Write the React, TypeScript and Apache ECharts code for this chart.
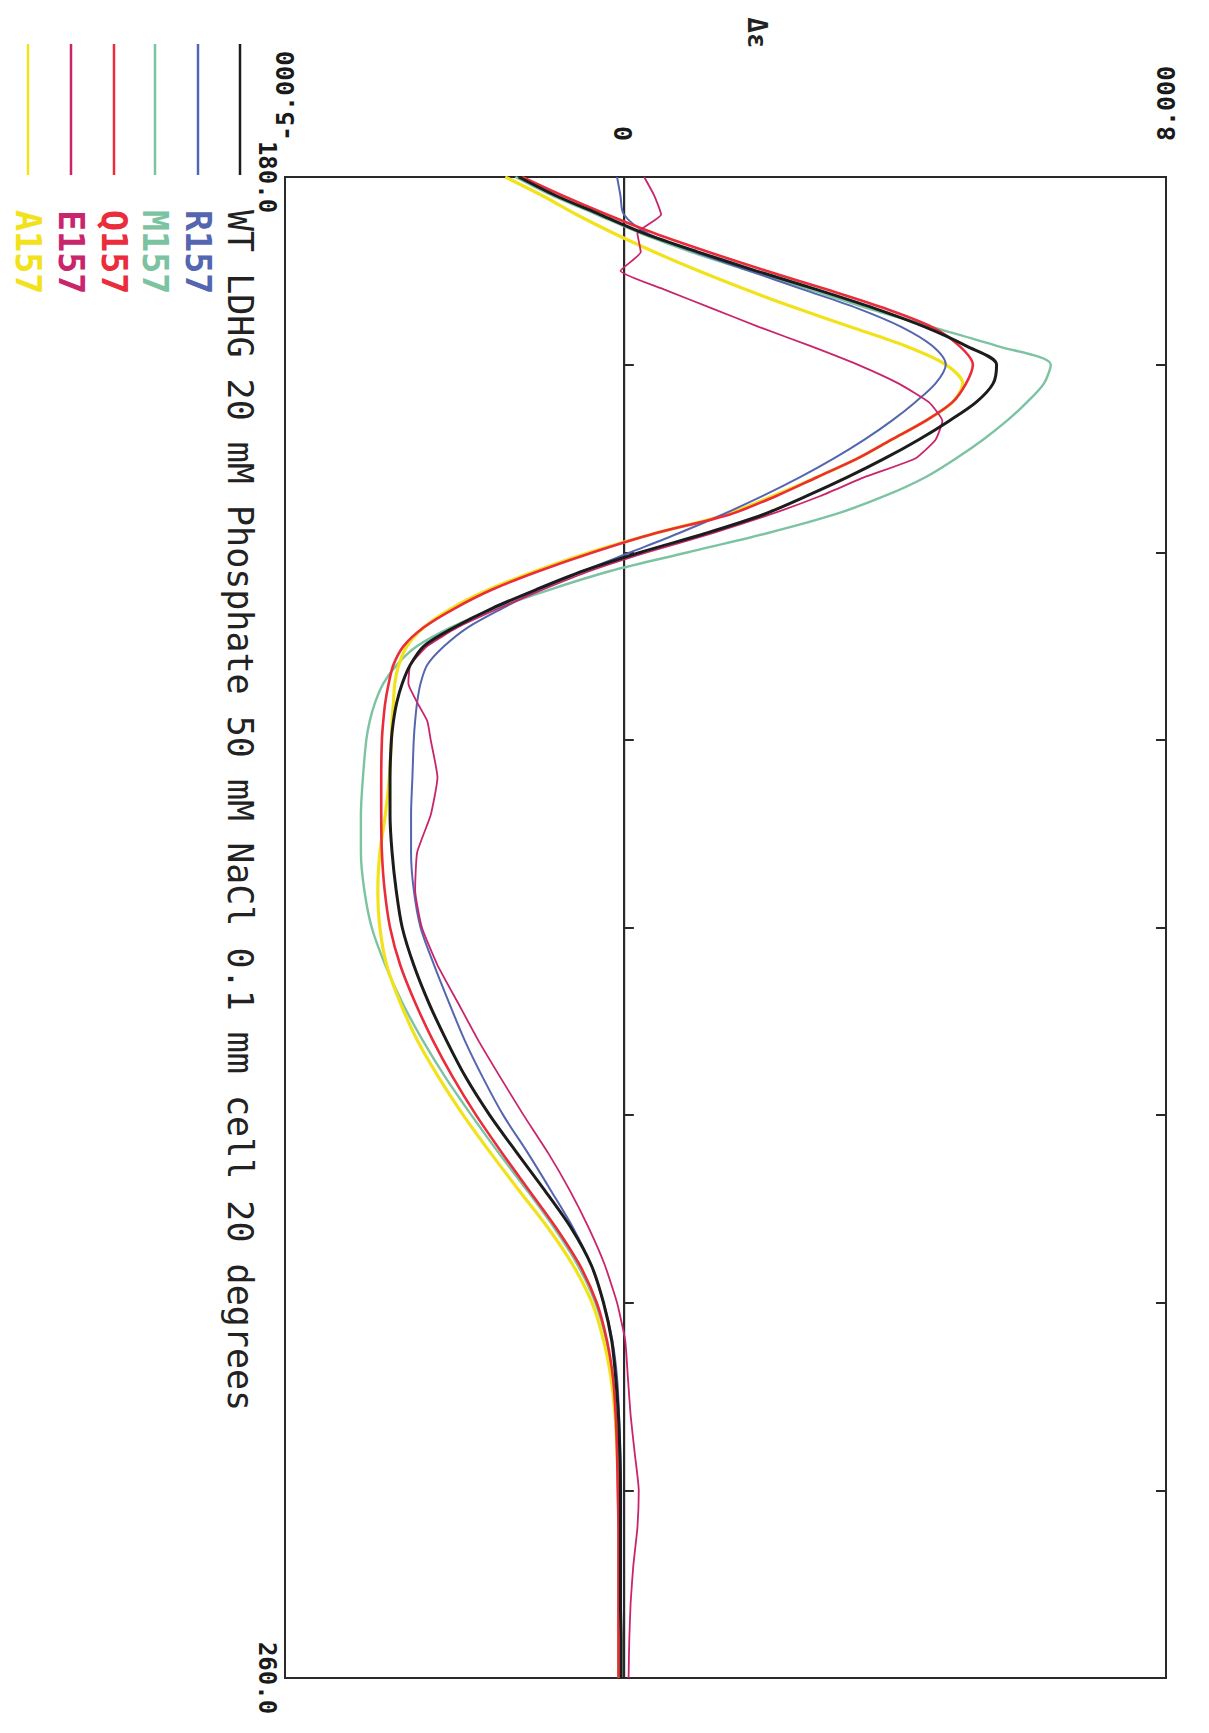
import React, { useEffect, useRef } from "react";
import * as echarts from "echarts";

// Wavelength (nm) sampling grid
const WAVELENGTH = [
  180, 181, 182, 183, 184, 185, 186, 187, 188, 189, 190, 191, 192, 193, 194, 195,
  196, 197, 198, 199, 200, 201, 202, 203, 204, 205, 206, 207, 208, 209, 210,
  212, 214, 216, 218, 220, 222, 224, 226, 228, 230, 232, 234, 236, 238, 240,
  242, 244, 246, 248, 250, 252, 254, 256, 258, 260,
];

// Δε values
const WT = [
  -1.55, -1.0, -0.35, 0.3, 1.1, 1.95, 2.85, 3.7, 4.45, 5.05, 5.5, 5.45, 5.2, 4.8, 4.35, 3.85,
  3.3, 2.7, 2.05, 1.2, 0.25, -0.6, -1.3, -1.95, -2.5, -2.95, -3.15, -3.27, -3.35, -3.4, -3.43,
  -3.45, -3.45, -3.42, -3.36, -3.27, -3.1, -2.88, -2.62, -2.33, -1.98, -1.58, -1.17, -0.78, -0.48, -0.3,
  -0.18, -0.12, -0.08, -0.06, -0.05, -0.05, -0.05, -0.05, -0.04, -0.04,
];
const R157 = [
  -0.1, -0.05, 0.0, 0.35, 1.05, 1.85, 2.65, 3.45, 4.1, 4.55, 4.75, 4.6, 4.3, 3.95, 3.55, 3.1,
  2.6, 2.05, 1.45, 0.8, 0.1, -0.6, -1.25, -1.8, -2.3, -2.65, -2.9, -3.0, -3.05, -3.08, -3.1,
  -3.12, -3.14, -3.14, -3.1, -3.0, -2.8, -2.58, -2.35, -2.08, -1.78, -1.42, -1.08, -0.75, -0.48, -0.3,
  -0.17, -0.1, -0.07, -0.05, -0.04, -0.04, -0.04, -0.04, -0.04, -0.04,
];
const M157 = [
  -1.6, -1.05, -0.4, 0.25, 1.0, 1.85, 2.75, 3.6, 4.55, 5.5, 6.3, 6.2, 5.95, 5.65, 5.3, 4.9,
  4.45, 3.85, 3.1, 2.1, 0.95, -0.2, -1.1, -1.9, -2.55, -3.05, -3.35, -3.55, -3.67, -3.75, -3.8,
  -3.85, -3.88, -3.88, -3.83, -3.72, -3.52, -3.27, -2.97, -2.63, -2.25, -1.85, -1.43, -1.03, -0.68, -0.42,
  -0.26, -0.17, -0.12, -0.09, -0.08, -0.07, -0.07, -0.07, -0.07, -0.07,
];
const Q157 = [
  -1.5, -0.9, -0.25, 0.45, 1.25, 2.1, 3.0, 3.85, 4.55, 4.95, 5.15, 5.05, 4.85, 4.45, 3.95, 3.45,
  2.85, 2.25, 1.55, 0.45, -0.45, -1.25, -1.95, -2.5, -2.95, -3.25, -3.4, -3.47, -3.52, -3.55, -3.57,
  -3.58, -3.58, -3.57, -3.53, -3.45, -3.3, -3.08, -2.82, -2.52, -2.18, -1.8, -1.4, -1.0, -0.65, -0.4,
  -0.25, -0.16, -0.12, -0.1, -0.09, -0.08, -0.08, -0.08, -0.08, -0.08,
];
const E157 = [
  0.3, 0.45, 0.55, 0.2, 0.25, -0.05, 0.6, 1.3, 2.0, 2.75, 3.45, 4.05, 4.5, 4.7, 4.6, 4.3,
  3.55, 2.9, 2.15, 1.3, 0.35, -0.5, -1.2, -1.85, -2.45, -2.9, -3.15, -3.18, -3.05, -2.9, -2.85,
  -2.75, -2.85, -3.05, -3.08, -2.98, -2.75, -2.45, -2.15, -1.82, -1.48, -1.12, -0.8, -0.52, -0.28, -0.1,
  0.02, 0.06, 0.1, 0.16, 0.22, 0.2, 0.14, 0.1, 0.08, 0.07,
];
const A157 = [
  -1.75, -1.2, -0.7, -0.15, 0.45, 1.1, 1.8, 2.55, 3.35, 4.15, 4.75, 5.0, 4.85, 4.45, 3.95, 3.45,
  2.85, 2.2, 1.5, 0.45, -0.5, -1.3, -2.0, -2.55, -2.95, -3.2, -3.32, -3.38, -3.4, -3.42, -3.43,
  -3.46, -3.52, -3.6, -3.63, -3.6, -3.5, -3.3, -3.05, -2.73, -2.37, -1.97, -1.55, -1.12, -0.75, -0.47,
  -0.3, -0.19, -0.13, -0.1, -0.08, -0.07, -0.07, -0.07, -0.07, -0.07,
];

const SERIES_NAMES = [
  "WT LDHG 20 mM Phosphate 50 mM NaCl 0.1 mm cell 20 degrees",
  "R157",
  "M157",
  "Q157",
  "E157",
  "A157",
];
const SERIES_VALUES = [WT, R157, M157, Q157, E157, A157];
const SERIES_COLORS = ["#1c1c1c", "#5566b0", "#7cc3a2", "#ea2c3b", "#c8256c", "#f2e21c"];
const SERIES_WIDTHS = [3, 2, 2.4, 2.6, 1.8, 3.2];
const SERIES_SMOOTH = [0.3, 0.3, 0.3, 0.3, 0.15, 0.3];
const DRAW_ORDER = [2, 5, 1, 3, 4, 0];

const X_LABELS: Record<number, string> = { [-5]: "-5.000", 0: "0", 8: "8.000" };
const Y_LABELS: Record<number, string> = { 180: "180.0", 260: "260.0" };

const MONO = "'DejaVu Sans Mono', 'Liberation Mono', monospace";

export default function App() {
  const ref = useRef<HTMLDivElement>(null);

  useEffect(() => {
    if (!ref.current) return;
    const chart = echarts.init(ref.current, undefined, { renderer: "svg" });

    const gridLeft = 285;
    const gridTop = 177;
    const gridRight = 43;
    const gridBottom = 55;

    const series: any[] = DRAW_ORDER.map((i) => {
      const s: any = {
        name: SERIES_NAMES[i],
        type: "line",
        data: WAVELENGTH.map((w, k) => [SERIES_VALUES[i][k], w]),
        showSymbol: false,
        symbol: "none",
        smooth: SERIES_SMOOTH[i],
        lineStyle: { color: SERIES_COLORS[i], width: SERIES_WIDTHS[i] },
        itemStyle: { color: SERIES_COLORS[i] },
        z: 3,
      };
      if (i === 0) {
        s.markLine = {
          silent: true,
          symbol: ["none", "none"],
          label: { show: false },
          lineStyle: { color: "#2a2a2a", width: 1.4, type: "solid" },
          data: [{ xAxis: 0 }],
          z: 1,
        };
      }
      return s;
    });

    const legendX = [240, 198, 155, 114, 71, 28];
    const graphics: any[] = [];
    SERIES_NAMES.forEach((name, i) => {
      graphics.push({
        type: "line",
        shape: { x1: legendX[i], y1: 44, x2: legendX[i], y2: 175 },
        style: { stroke: SERIES_COLORS[i], lineWidth: 2.5 },
      });
      graphics.push({
        type: "text",
        x: legendX[i],
        y: 210,
        rotation: -Math.PI / 2,
        style: {
          text: name,
          fill: i === 0 ? "#222" : SERIES_COLORS[i],
          font: `${i === 0 ? "normal" : "bold"} 35px ${MONO}`,
          align: "left",
          verticalAlign: "middle",
          textAlign: "left",
          textVerticalAlign: "middle",
        },
      });
    });
    graphics.push({
      type: "text",
      x: 757,
      y: 33,
      rotation: -Math.PI / 2,
      style: {
        text: "Δε",
        fill: "#222",
        font: `bold 26px ${MONO}`,
        align: "center",
        verticalAlign: "middle",
        textAlign: "center",
        textVerticalAlign: "middle",
      },
    });

    const option: any = {
      animation: false,
      backgroundColor: "#ffffff",
      grid: {
        left: gridLeft,
        top: gridTop,
        right: gridRight,
        bottom: gridBottom,
        show: true,
        borderColor: "#2a2a2a",
        borderWidth: 2,
        backgroundColor: "transparent",
      },
      xAxis: {
        type: "value",
        position: "top",
        min: -5,
        max: 8,
        interval: 1,
        axisLine: { show: true, lineStyle: { color: "#2a2a2a", width: 1.5 } },
        axisTick: { show: false },
        splitLine: { show: false },
        axisLabel: {
          rotate: -90,
          margin: 36,
          color: "#1a1a1a",
          fontFamily: MONO,
          fontWeight: "bold",
          fontSize: 25,
          formatter: (v: number) => X_LABELS[v] ?? "",
        },
      },
      yAxis: [
        {
          type: "value",
          position: "left",
          inverse: true,
          min: 180,
          max: 260,
          interval: 10,
          axisLine: { show: true, lineStyle: { color: "#2a2a2a", width: 2 } },
          axisTick: { show: true, inside: true, length: 10, lineStyle: { color: "#2a2a2a", width: 2 } },
          splitLine: { show: false },
          axisLabel: {
            rotate: -90,
            margin: 6,
            color: "#1a1a1a",
            fontFamily: MONO,
            fontWeight: "bold",
            fontSize: 24,
            formatter: (v: number) => Y_LABELS[v] ?? "",
          },
        },
        {
          type: "value",
          position: "right",
          inverse: true,
          min: 180,
          max: 260,
          interval: 10,
          axisLine: { show: true, lineStyle: { color: "#2a2a2a", width: 2 } },
          axisTick: { show: true, inside: true, length: 10, lineStyle: { color: "#2a2a2a", width: 2 } },
          splitLine: { show: false },
          axisLabel: { show: false },
        },
      ],
      series,
      graphic: graphics,
    };

    chart.setOption(option);
    return () => chart.dispose();
  }, []);

  return (
    <div
      ref={ref}
      style={{ position: "absolute", left: 0, top: 0, width: 1209, height: 1733, background: "#fff" }}
    />
  );
}
